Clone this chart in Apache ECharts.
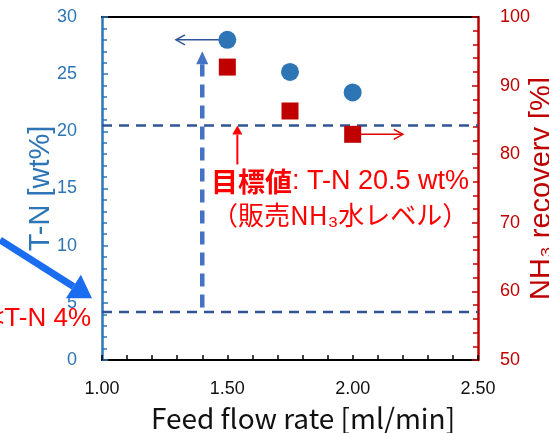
<!DOCTYPE html>
<html>
<head>
<meta charset="utf-8">
<script src="https://cdn.jsdelivr.net/npm/echarts@6/dist/echarts.min.js"></script>
<style>html,body{margin:0;padding:0;background:#fff}#c{width:549px;height:433px}</style>
</head>
<body>
<div id="c"></div>
<script>
// ---- data ----
const feedRates = [1.5, 1.75, 2.0];
const tnValues = [28.0, 25.2, 23.4];          // T-N [wt%] (left axis)
const recoveryValues = [92.7, 86.3, 82.9];    // NH3 recovery [%] (right axis)
const xRange = [1.0, 2.5];
const targetTN = 20.5;
const lowerTN = 4.2;
// annotation arrows [x1, y1, x2, y2] in data units
const arrowLeftBlue = [1.5, 28.0, 1.295, 28.0];
const arrowVertical = [1.4, 4.6, 1.4, 27.0];
const arrowRedUp = [1.54, 17.1, 1.54, 20.5];
const arrowRedRight = [2.0, 82.9, 2.2, 82.9];   // right axis
const arrowBigBlue = [0.593, 10.5, 0.96, 5.4];

const FONT = "'Liberation Sans', Arial, 'Noto Sans CJK JP', sans-serif";
const JFONT = "'Noto Sans CJK JP', 'Liberation Sans', sans-serif";

function arrowSeries(pts, yAxisIndex, st) {
  return {
    type: 'custom', xAxisIndex: 0, yAxisIndex: yAxisIndex, clip: false, silent: true, z: st.z || 3,
    data: [pts],
    renderItem: function (params, api) {
      const p1 = api.coord([api.value(0), api.value(1)]);
      const p2 = api.coord([api.value(2), api.value(3)]);
      const dx = p2[0] - p1[0], dy = p2[1] - p1[1];
      const len = Math.hypot(dx, dy);
      const ux = dx / len, uy = dy / len, nx = -uy, ny = ux;
      const hl = st.headLen, hw = st.headWidth;
      const base = [p2[0] - ux * hl, p2[1] - uy * hl];
      const l = [base[0] + nx * hw, base[1] + ny * hw];
      const r = [base[0] - nx * hw, base[1] - ny * hw];
      const end = st.filled ? base : p2;
      return {
        type: 'group',
        children: [
          { type: 'line', shape: { x1: p1[0], y1: p1[1], x2: end[0], y2: end[1] },
            style: { stroke: st.color, lineWidth: st.width, lineDash: st.dash || null } },
          st.filled
            ? { type: 'polygon', shape: { points: [p2, l, r] }, style: { fill: st.color } }
            : { type: 'polyline', shape: { points: [l, p2, r] }, style: { stroke: st.color, lineWidth: st.width, fill: null } }
        ]
      };
    }
  };
}

const chart = echarts.init(document.getElementById('c'), null, { renderer: 'canvas' });
chart.setOption({
  animation: false,
  backgroundColor: '#fff',
  grid: { left: 102, right: 71, top: 17, bottom: 73, containLabel: false, outerBoundsMode: 'none' },
  xAxis: [{
    type: 'value', min: xRange[0], max: xRange[1], interval: 0.5,
    name: 'Feed flow rate [ml/min]', nameLocation: 'middle', nameGap: 44, nameMoveOverlap: false,
    nameTextStyle: { fontSize: 28, color: '#111', fontFamily: JFONT, padding: [0, 0, 0, 26] },
    axisLine: { show: true, onZero: false, lineStyle: { color: '#000', width: 2 } },
    axisTick: { show: true, inside: true, length: 5, lineStyle: { color: '#000', width: 1.5 } },
    minorTick: { show: true, splitNumber: 5, length: 5, lineStyle: { color: '#000', width: 1.5 } },
    axisLabel: { color: '#111', fontSize: 18, fontFamily: FONT, margin: 20, formatter: v => v.toFixed(2) },
    splitLine: { show: false }
  }, {
    type: 'value', position: 'top', min: xRange[0], max: xRange[1],
    axisLine: { show: true, onZero: false, lineStyle: { color: '#000', width: 2 } },
    axisTick: { show: false }, axisLabel: { show: false }, splitLine: { show: false }
  }],
  yAxis: [{
    type: 'value', min: 0, max: 30, interval: 5, position: 'left',
    name: 'T-N [wt%]', nameLocation: 'middle', nameGap: 46, nameRotate: 90, nameMoveOverlap: false,
    nameTextStyle: { fontSize: 29, color: '#2e75b6', fontFamily: FONT },
    axisLine: { show: true, onZero: false, lineStyle: { color: '#2e75b6', width: 2.5 } },
    axisTick: { show: true, inside: true, length: 6, lineStyle: { color: '#2e75b6', width: 1.5 } },
    minorTick: { show: true, splitNumber: 5, length: 5, lineStyle: { color: '#2e75b6', width: 1.5 } },
    axisLabel: { color: '#2e75b6', fontSize: 18, fontFamily: FONT, margin: 25 },
    splitLine: { show: false }
  }, {
    type: 'value', min: 50, max: 100, interval: 10, position: 'right',
    name: 'NH₃ recovery [%]', nameLocation: 'middle', nameGap: 49, nameRotate: 90, nameMoveOverlap: false,
    nameTextStyle: { fontSize: 29, color: '#c00000', fontFamily: FONT },
    axisLine: { show: true, onZero: false, lineStyle: { color: '#c00000', width: 2.5 } },
    axisTick: { show: true, inside: true, length: 6, lineStyle: { color: '#c00000', width: 1.5 } },
    minorTick: { show: true, splitNumber: 5, length: 5, lineStyle: { color: '#c00000', width: 1.5 } },
    axisLabel: { color: '#c00000', fontSize: 18, fontFamily: FONT, margin: 22 },
    splitLine: { show: false }
  }],
  series: [
    { type: 'line', yAxisIndex: 0, symbol: 'none', silent: true, z: 2,
      data: [[xRange[0], targetTN], [xRange[1], targetTN]],
      lineStyle: { color: '#2f5597', width: 2.5, type: [10, 7] } },
    { type: 'line', yAxisIndex: 0, symbol: 'none', silent: true, z: 2,
      data: [[xRange[0], lowerTN], [xRange[1], lowerTN]],
      lineStyle: { color: '#2f5597', width: 2.5, type: [10, 7] } },
    arrowSeries(arrowLeftBlue, 0, { color: '#2f5597', width: 1.5, headLen: 9, headWidth: 5, filled: false }),
    arrowSeries(arrowVertical, 0, { color: '#4472c4', width: 4.5, dash: [13, 8], headLen: 13, headWidth: 6, filled: true }),
    arrowSeries(arrowRedUp, 0, { color: '#ff0000', width: 2, headLen: 9, headWidth: 5, filled: true }),
    arrowSeries(arrowRedRight, 1, { color: '#e00000', width: 1.5, headLen: 9, headWidth: 5, filled: false }),
    arrowSeries(arrowBigBlue, 0, { color: '#1a6cf0', width: 7, headLen: 22, headWidth: 14, filled: true, z: 10 }),
    { type: 'scatter', yAxisIndex: 0, symbol: 'circle', symbolSize: 18, z: 5,
      itemStyle: { color: '#2e75b6', opacity: 1 },
      data: feedRates.map((x, i) => [x, tnValues[i]]) },
    { type: 'scatter', yAxisIndex: 1, symbol: 'rect', symbolSize: 17, z: 5,
      itemStyle: { color: '#c00000', opacity: 1 },
      data: feedRates.map((x, i) => [x, recoveryValues[i]]) }
  ],
  graphic: [
    { type: 'text', left: 211, top: 168, z: 20,
      style: { text: '{b|目標値}{n|: T-N 20.5 wt%}', rich: {
        b: { fontSize: 27, fontWeight: 'bold', fill: '#ff0000', fontFamily: JFONT },
        n: { fontSize: 27, fill: '#ff0000', fontFamily: FONT } } } },
    { type: 'text', left: 212, top: 202, z: 20,
      style: { text: '（販売NH₃水レベル）', fontSize: 26, fill: '#ff0000', fontFamily: JFONT } },
    { type: 'text', right: 549 - 91, top: 306, z: 20,
      style: { text: '<T-N 4%', fontSize: 26, fill: '#ff0000', fontFamily: FONT } }
  ]
});
</script>
</body>
</html>
